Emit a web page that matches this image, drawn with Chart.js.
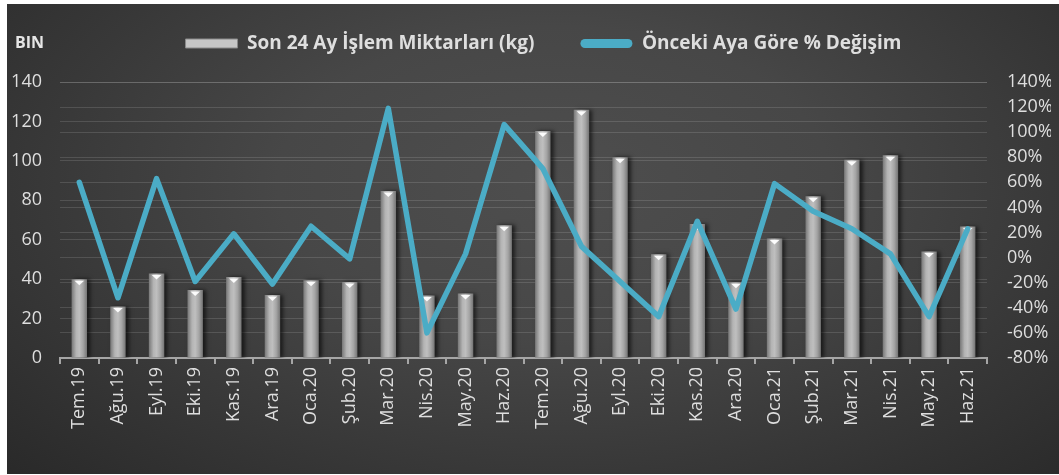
<!DOCTYPE html>
<html>
<head>
<meta charset="utf-8">
<script src="https://cdn.jsdelivr.net/npm/chart.js@4/dist/chart.umd.min.js"></script>
<style>
  html, body { margin:0; padding:0; background:#ffffff; width:1059px; height:475px; overflow:hidden; }
  #bg { position:absolute; left:7px; top:4px; width:1052px; height:470px;
        background: radial-gradient(ellipse 75% 95% at 52% 38%, #4e4e4e 0%, #474747 35%, #383838 65%, #272727 100%); }
  #wrap { position:absolute; left:0; top:0; width:1059px; height:475px; }
  #bin { position:absolute; left:15px; top:31px; color:#e6e6e6; font: bold 16px 'Open Sans', sans-serif; }
</style>
</head>
<body>
<div id="bg"></div>
<div id="wrap"><canvas id="c" width="1059" height="475"></canvas></div>
<div id="bin">BIN</div>
<script>
const categories = ['Tem.19','Ağu.19','Eyl.19','Eki.19','Kas.19','Ara.19','Oca.20','Şub.20','Mar.20','Nis.20','May.20','Haz.20',
                    'Tem.20','Ağu.20','Eyl.20','Eki.20','Kas.20','Ara.20','Oca.21','Şub.21','Mar.21','Nis.21','May.21','Haz.21'];
const volumes = [40.0, 26.1, 42.8, 34.5, 41.1, 31.9, 39.4, 38.5, 84.7, 31.7, 32.7, 67.4,
                 115.2, 125.9, 101.8, 52.6, 68.0, 38.4, 60.6, 82.1, 100.5, 102.9, 54.0, 66.7];
const monthlyChange = [60, -32, 63, -19, 19, -21, 25, -1, 119, -60, 3, 106,
                       71, 9, -19, -47, 29, -41, 59, 37, 23, 3, -47, 23];
const leftTicks = [0, 20, 40, 60, 80, 100, 120, 140];
const rightTicks = [-80, -60, -40, -20, 0, 20, 40, 60, 80, 100, 120, 140];
const seriesNames = ['Son 24 Ay İşlem Miktarları (kg)', 'Önceki Aya Göre % Değişim'];

const BAR_PCT = 0.40;
const FONT = "'Open Sans', sans-serif";
const TEXT = '#dedede';

function barFill(c) {
  const ch = c.chart, xs = ch.scales && ch.scales.x;
  if (!xs || c.dataIndex === undefined || !ch.chartArea) return '#a8a8a8';
  const cx = xs.getPixelForValue(c.dataIndex);
  const w = xs.width / categories.length * BAR_PCT;
  const g = ch.ctx.createLinearGradient(cx - w / 2, 0, cx + w / 2, 0);
  g.addColorStop(0, '#777777');
  g.addColorStop(0.3, '#b4b4b4');
  g.addColorStop(0.5, '#bfbfbf');
  g.addColorStop(0.75, '#a4a4a4');
  g.addColorStop(1, '#747474');
  return g;
}

const barFx = {
  id: 'barFx',
  beforeDatasetDraw(chart, args) {
    if (args.index !== 0) return;
    const ctx = chart.ctx;
    ctx.save();
    ctx.shadowColor = 'rgba(0,0,0,0.6)';
    ctx.shadowOffsetX = 3;
    ctx.shadowOffsetY = 0;
    ctx.shadowBlur = 4;
  },
  afterDatasetDraw(chart, args) {
    if (args.index !== 0) return;
    const ctx = chart.ctx;
    ctx.restore();
    args.meta.data.forEach(el => {
      const tw = el.width * 0.62;
      ctx.save();
      ctx.fillStyle = 'rgba(255,255,255,0.95)';
      ctx.beginPath();
      ctx.moveTo(el.x - tw / 2, el.y + 1.5);
      ctx.lineTo(el.x + tw / 2, el.y + 1.5);
      ctx.lineTo(el.x, el.y + 6);
      ctx.closePath();
      ctx.fill();
      ctx.restore();
    });
  }
};

const legendShift = {
  id: 'legendShift',
  afterLayout(chart) {
    const l = chart.legend;
    if (!l) return;
    l.top -= 19; l.bottom -= 19;
    l.left += 12; l.right += 12;
  }
};

new Chart(document.getElementById('c'), {
  type: 'bar',
  data: {
    labels: categories,
    datasets: [
      {
        label: seriesNames[0],
        data: volumes,
        yAxisID: 'y',
        backgroundColor: barFill,
        borderWidth: 0,
        barPercentage: BAR_PCT,
        categoryPercentage: 1,
        order: 1
      },
      {
        type: 'line',
        label: seriesNames[1],
        data: monthlyChange,
        yAxisID: 'y1',
        borderColor: '#4bacc6',
        backgroundColor: '#4bacc6',
        borderWidth: 5.5,
        pointRadius: 0,
        tension: 0,
        borderJoinStyle: 'round',
        borderCapStyle: 'round',
        order: 0
      }
    ]
  },
  plugins: [barFx, legendShift],
  options: {
    responsive: false,
    animation: false,
    layout: { padding: { left: 12, right: 8, top: 7, bottom: 0 } },
    plugins: {
      tooltip: { enabled: false },
      legend: {
        position: 'top',
        labels: {
          color: TEXT,
          font: { family: FONT, size: 19, weight: 'bold' },
          boxWidth: 52,
          boxHeight: 9,
          padding: 46,
          useBorderRadius: true,
          generateLabels() {
            return [
              { text: seriesNames[0], fillStyle: '#c6c6c6', strokeStyle: '#8a8a8a', lineWidth: 1,
                fontColor: TEXT, datasetIndex: 0, borderRadius: 0, hidden: false },
              { text: seriesNames[1], fillStyle: '#4bacc6', strokeStyle: '#4bacc6', lineWidth: 0,
                fontColor: TEXT, datasetIndex: 1, borderRadius: 4.5, hidden: false }
            ];
          }
        }
      }
    },
    scales: {
      x: {
        offset: true,
        afterFit(s) { s.paddingLeft = 0; s.paddingRight = 0; s.height = 117; },
        border: { display: true, color: '#a6a6a6', width: 2 },
        grid: { display: true, drawOnChartArea: false, drawTicks: true, tickLength: 6, color: '#a6a6a6', lineWidth: 2, offset: true },
        ticks: { color: TEXT, font: { family: FONT, size: 18 }, minRotation: 90, maxRotation: 90, padding: 3, autoSkip: false }
      },
      y: {
        position: 'left',
        min: 0, max: 140,
        afterBuildTicks(s) { s.ticks = leftTicks.map(v => ({ value: v })); },
        afterFit(s) { s.width = 48; },
        border: { display: false },
        grid: { color: 'rgba(255,255,255,0.13)', lineWidth: 1, drawTicks: false },
        ticks: { color: TEXT, font: { family: FONT, size: 18 }, padding: 18 }
      },
      y1: {
        position: 'right',
        min: -80, max: 140,
        afterBuildTicks(s) { s.ticks = rightTicks.map(v => ({ value: v })); },
        afterFit(s) { s.width = 64; },
        border: { display: false },
        grid: { color: 'rgba(255,255,255,0.13)', lineWidth: 1, drawTicks: false, drawOnChartArea: true },
        ticks: { color: TEXT, font: { family: FONT, size: 18 }, padding: 20, callback: v => v + '%' }
      }
    }
  }
});
</script>
</body>
</html>
